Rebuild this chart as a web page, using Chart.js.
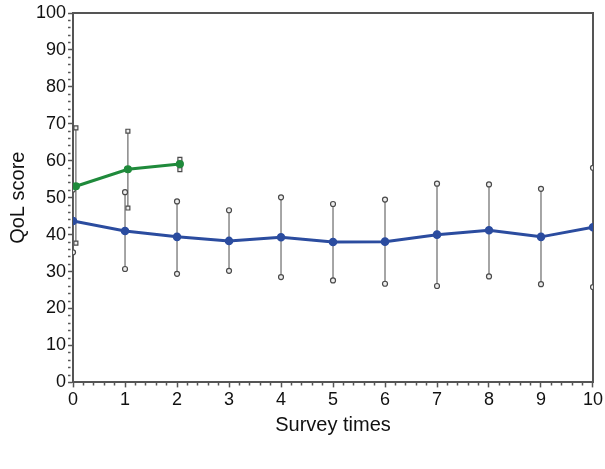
<!DOCTYPE html>
<html>
<head>
<meta charset="utf-8">
<script src="https://cdn.jsdelivr.net/npm/chart.js@4"></script>
<style>
  html, body { margin: 0; padding: 0; background: #fff; }
  #wrap { width: 605px; height: 469px; }
</style>
</head>
<body>
<div id="wrap"><canvas id="qol"></canvas></div>
<script>
// ── Data ──
const surveyTimes = [0, 1, 2, 3, 4, 5, 6, 7, 8, 9, 10];
const blueMean = [43.7, 41.0, 39.4, 38.3, 39.3, 38.0, 38.1, 40.0, 41.2, 39.4, 42.0];
const blueHigh = [52.2, 51.5, 49.0, 46.6, 50.1, 48.3, 49.5, 53.8, 53.6, 52.4, 58.1];
const blueLow  = [35.2, 30.7, 29.4, 30.2, 28.5, 27.6, 26.7, 26.1, 28.7, 26.6, 25.8];

const greenTimes = [0, 1, 2];
const greenMean = [53.1, 57.7, 59.1];
const greenHigh = [68.9, 68.0, 60.4];
const greenLow  = [37.7, 47.2, 57.6];

const xTicks = [0, 1, 2, 3, 4, 5, 6, 7, 8, 9, 10];
const yTicks = [0, 10, 20, 30, 40, 50, 60, 70, 80, 90, 100];

// ── Style ──
const BLUE = '#2b4c9f';
const GREEN = '#1f8a3b';
const BAR = '#6a6a6a';
const AXIS = '#555';
const greenShift = 0.055;   // green group sits slightly right of blue
const FONT = "'Liberation Sans', Arial, Helvetica, sans-serif";

function whiskers(times, lo, hi, shift, style) {
    return times.map((t, i) => ({
        type: 'line', order: 2,
        data: [{ x: t + shift, y: lo[i] }, { x: t + shift, y: hi[i] }],
        borderColor: BAR, borderWidth: 1.2,
        pointStyle: style, pointRadius: style === 'rect' ? 2.8 : 2.5,
        pointBorderColor: '#4a4a4a', pointBackgroundColor: '#eeeeee', pointBorderWidth: 1.2,
    }));
}

const datasets = [
    ...whiskers(surveyTimes, blueLow, blueHigh, 0, 'circle'),
    ...whiskers(greenTimes, greenLow, greenHigh, greenShift, 'rect'),
    {
        type: 'line', order: 0,
        data: surveyTimes.map((t, i) => ({ x: t, y: blueMean[i] })),
        borderColor: BLUE, borderWidth: 3,
        pointRadius: 2.8, pointBackgroundColor: BLUE, pointBorderColor: BLUE,
    },
    {
        type: 'line', order: 0,
        data: greenTimes.map((t, i) => ({ x: t + greenShift, y: greenMean[i] })),
        borderColor: GREEN, borderWidth: 3,
        pointRadius: 2.6, pointBackgroundColor: GREEN, pointBorderColor: GREEN,
    },
];

const isOn = (v, list) => list.some(t => Math.abs(t - v) < 1e-6);
// minor ticks: only the first couple of pixels of each tick line are drawn
const tickDash = list => ctx => (ctx.tick && isOn(ctx.tick.value, list)) ? [] : [2.5, 20];

new Chart(document.getElementById('qol'), {
    type: 'scatter',
    data: { datasets },
    options: {
        responsive: true, maintainAspectRatio: false, animation: false,
        layout: { padding: { top: 5, right: 0, bottom: 28, left: 2 } },
        scales: {
            x: {
                type: 'linear', min: 0, max: 10, position: 'bottom',
                border: { color: AXIS, width: 2 },
                grid: { drawOnChartArea: false, drawTicks: true, tickLength: 5, tickColor: AXIS, tickWidth: 1.5,
                        tickBorderDash: tickDash(xTicks) },
                ticks: {
                    stepSize: 0.2, autoSkip: false, maxRotation: 0, padding: 2,
                    color: '#111', font: { family: FONT, size: 18 },
                    callback: v => isOn(v, xTicks) ? String(Math.round(v)) : ''
                },
                title: { display: true, text: 'Survey times', color: '#111', font: { family: FONT, size: 20 }, padding: { top: 0 } }
            },
            y: {
                type: 'linear', min: 0, max: 100, position: 'left',
                border: { color: AXIS, width: 2 },
                grid: { drawOnChartArea: false, drawTicks: true, tickLength: 5, tickColor: AXIS, tickWidth: 1.5,
                        tickBorderDash: tickDash(yTicks) },
                ticks: {
                    stepSize: 2, autoSkip: false, padding: 2,
                    color: '#111', font: { family: FONT, size: 18 },
                    callback: v => isOn(v, yTicks) ? String(Math.round(v)) : ''
                },
                title: { display: true, text: 'QoL score', color: '#111', font: { family: FONT, size: 20 }, padding: { bottom: 4 } }
            },
            x2: {
                type: 'linear', min: 0, max: 10, position: 'top',
                border: { color: AXIS, width: 2 },
                grid: { display: false }, ticks: { display: false }
            },
            y2: {
                type: 'linear', min: 0, max: 100, position: 'right',
                border: { color: AXIS, width: 2 },
                grid: { display: false }, ticks: { display: false }
            }
        },
        plugins: { legend: { display: false }, tooltip: { enabled: false } }
    }
});
</script>
</body>
</html>
